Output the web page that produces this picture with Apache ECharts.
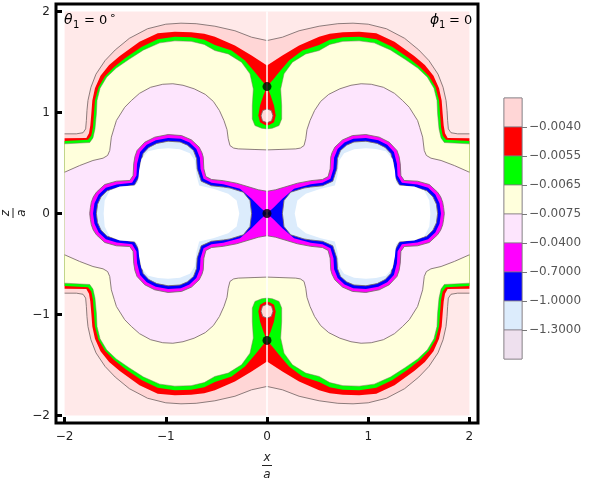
<!DOCTYPE html>
<html>
<head>
<meta charset="utf-8">
<script src="https://cdn.jsdelivr.net/npm/echarts@6/dist/echarts.min.js"></script>
<style>
  html, body { margin: 0; padding: 0; background: #fff; }
  #main { width: 594px; height: 484px; }
</style>
</head>
<body>
<div id="main"></div>
<script>
// contour outlines, upper-left quadrant only (x <= 0, z >= 0)
// the plot is mirror symmetric in x and in z, the other quadrants are reflections
var domain = [-2, 2];
var ticks = [-2, -1, 0, 1, 2];

// grey line, edge of the outermost pale zone
var lineA = [[-2.0,0.789],[-1.884,0.789],[-1.818,0.80],[-1.792,0.838],[-1.785,0.92],[-1.779,1.02],[-1.769,1.12],
  [-1.74,1.25],[-1.69,1.38],[-1.60,1.515],[-1.50,1.62],[-1.36,1.735],[-1.18,1.83],[-1.00,1.875],[-0.85,1.885],
  [-0.70,1.88],[-0.515,1.855],[-0.317,1.81],[-0.152,1.746],[0,1.713]];
// pink / red
var lineB = [[-2.0,0.746],[-1.785,0.749],[-1.759,0.795],[-1.746,0.871],[-1.736,0.987],[-1.726,1.119],[-1.70,1.24],
  [-1.645,1.365],[-1.56,1.47],[-1.455,1.56],[-1.26,1.70],[-1.08,1.785],[-0.911,1.80],[-0.75,1.795],[-0.62,1.78],
  [-0.515,1.75],[-0.317,1.663],[-0.152,1.564],[0,1.465]];
// red / green (runs into the saddle point)
var lineC = [[-2.0,0.718],[-1.769,0.73],[-1.736,0.772],[-1.72,0.855],[-1.71,0.987],[-1.70,1.119],[-1.665,1.25],
  [-1.60,1.36],[-1.51,1.45],[-1.40,1.54],[-1.24,1.65],[-1.08,1.725],[-0.911,1.75],[-0.75,1.745],[-0.62,1.72],
  [-0.515,1.67],[-0.35,1.614],[-0.218,1.515],[-0.119,1.399],[-0.053,1.317],[0,1.257]];
// green / yellow (goes round the teardrop)
var lineD = [[-2.0,0.69],[-1.752,0.703],[-1.72,0.749],[-1.70,0.838],[-1.686,0.987],[-1.68,1.119],[-1.65,1.24],
  [-1.585,1.35],[-1.49,1.44],[-1.36,1.53],[-1.22,1.62],[-1.06,1.69],[-0.911,1.71],[-0.75,1.705],[-0.62,1.675],
  [-0.515,1.614],[-0.383,1.581],[-0.251,1.498],[-0.168,1.383],[-0.135,1.234],[-0.145,1.069],[-0.145,0.937],
  [-0.119,0.871],[-0.053,0.845],[0,0.838]];
// yellow / lilac grey line
var lineE = [[-2.0,0.409],[-1.851,0.475],[-1.72,0.525],[-1.62,0.548],[-1.575,0.575],[-1.554,0.624],[-1.538,0.756],
  [-1.51,0.85],[-1.488,0.921],[-1.406,1.052],[-1.34,1.119],[-1.26,1.19],[-1.15,1.25],[-1.03,1.28],[-0.93,1.285],
  [-0.83,1.27],[-0.72,1.235],[-0.61,1.18],[-0.53,1.11],[-0.47,1.02],[-0.425,0.92],[-0.395,0.83],[-0.383,0.74],
  [-0.366,0.673],[-0.33,0.648],[-0.284,0.64],[-0.119,0.634],[0,0.63]];
// teardrop under the upper saddle, left half
var tearOuter = [[0,1.257],[-0.036,1.168],[-0.069,1.069],[-0.086,0.97],[-0.069,0.904],[-0.026,0.878],[0,0.871]];
var tearInner = [[0,1.036],[-0.042,1.02],[-0.059,0.967],[-0.045,0.918],[0,0.898]];
// left lobe, upper half
var lobeMagenta = [[-1.752,0],[-1.745,0.06],[-1.736,0.112],[-1.716,0.165],[-1.686,0.211],[-1.604,0.287],[-1.488,0.32],
  [-1.356,0.327],[-1.323,0.376],[-1.317,0.492],[-1.305,0.565],[-1.284,0.624],[-1.208,0.706],[-1.109,0.756],
  [-0.977,0.782],[-0.845,0.772],[-0.746,0.729],[-0.67,0.657],[-0.642,0.6],[-0.63,0.558],[-0.624,0.442],
  [-0.604,0.366],[-0.548,0.337],[-0.432,0.325],[-0.30,0.30],[-0.168,0.26],[-0.085,0.235],[0,0.22]];
var lobeBlue = [[-1.719,0],[-1.705,0.102],[-1.663,0.188],[-1.592,0.256],[-1.485,0.287],[-1.333,0.304],[-1.29,0.376],
  [-1.284,0.492],[-1.254,0.609],[-1.188,0.68],[-1.099,0.725],[-0.977,0.749],[-0.852,0.74],[-0.766,0.703],
  [-0.698,0.64],[-0.663,0.551],[-0.657,0.442],[-0.627,0.343],[-0.548,0.305],[-0.432,0.29],[-0.267,0.244],
  [-0.152,0.145],[-0.069,0.063],[0,0]];
var lobeLightBlue = [[-1.686,0],[-1.674,0.092],[-1.64,0.165],[-1.58,0.225],[-1.482,0.254],[-1.31,0.281],[-1.257,0.376],
  [-1.251,0.492],[-1.224,0.594],[-1.168,0.654],[-1.089,0.694],[-0.977,0.716],[-0.859,0.708],[-0.786,0.677],
  [-0.726,0.623],[-0.696,0.544],[-0.69,0.442],[-0.65,0.32],[-0.55,0.275],[-0.43,0.262],[-0.366,0.252],
  [-0.234,0.211],[-0.168,0.129],[-0.152,0]];
var lobeWhite = [[-1.614,0],[-1.604,0.129],[-1.554,0.228],[-1.455,0.267],[-1.307,0.277],[-1.274,0.31],[-1.264,0.426],
  [-1.241,0.541],[-1.175,0.617],[-1.076,0.64],[-0.977,0.647],[-0.861,0.637],[-0.762,0.597],[-0.713,0.525],
  [-0.696,0.376],[-0.67,0.277],[-0.531,0.244],[-0.383,0.195],[-0.30,0.129],[-0.274,0]];

var saddleX = [0, 0, 0];
var saddleZ = [1.257, 0, -1.257];

var levelLabels = ['\u22120.0040', '\u22120.0055', '\u22120.0065', '\u22120.0075', '\u22120.0400',
  '\u22120.7000', '\u22121.0000', '\u22121.3000'];
var levelColors = ['#ffd6d6', '#ff0000', '#00ff00', '#ffffdc', '#fde5fd', '#ff00ff', '#0000ff', '#dcecfc', '#eee0ee'];
var outerColor = '#ffe9e9';
var lineGrey = 'rgba(120,105,105,0.85)';

function rev(q) { return q.slice().reverse(); }
function mirrorX(q) { return q.map(function (p) { return [-p[0], p[1]]; }); }
function mirrorZ(q) { return q.map(function (p) { return [p[0], -p[1]]; }); }
function upperHalf(q) { return q.concat(rev(mirrorX(q))); }
function band(q) { return upperHalf(q).concat(rev(mirrorZ(upperHalf(q)))); }
function lobe(q) { return q.concat(rev(mirrorZ(q))); }

var shapes = [];
shapes.push({ pts: [[domain[0], domain[0]], [domain[1], domain[0]], [domain[1], domain[1]], [domain[0], domain[1]]], fill: outerColor });
shapes.push({ pts: band(lineA), fill: levelColors[0] });
shapes.push({ pts: band(lineB), fill: levelColors[1] });
shapes.push({ pts: band(lineC), fill: levelColors[2] });
shapes.push({ pts: band(lineD), fill: levelColors[3] });
shapes.push({ pts: band(lineE), fill: levelColors[4] });
[upperHalf(tearOuter), mirrorZ(upperHalf(tearOuter))].forEach(function (t) {
  shapes.push({ pts: t, fill: levelColors[1] });
});
[upperHalf(tearInner), mirrorZ(upperHalf(tearInner))].forEach(function (t) {
  shapes.push({ pts: t, fill: levelColors[0], stroke: lineGrey });
});
shapes.push({ pts: band(lobeMagenta), fill: levelColors[5], stroke: lineGrey });
shapes.push({ pts: band(lobeBlue), fill: levelColors[6] });
shapes.push({ pts: lobe(lobeLightBlue), fill: levelColors[7], stroke: lineGrey });
shapes.push({ pts: mirrorX(lobe(lobeLightBlue)), fill: levelColors[7], stroke: lineGrey });
shapes.push({ pts: lobe(lobeWhite), fill: '#ffffff' });
shapes.push({ pts: mirrorX(lobe(lobeWhite)), fill: '#ffffff' });
// contour lines
[lineA, lineE].forEach(function (q) {
  shapes.push({ pts: upperHalf(q), line: true, stroke: lineGrey });
  shapes.push({ pts: mirrorZ(upperHalf(q)), line: true, stroke: lineGrey });
});
shapes.push({ pts: upperHalf(lineD), line: true, stroke: 'rgba(120,120,90,0.5)' });
shapes.push({ pts: mirrorZ(upperHalf(lineD)), line: true, stroke: 'rgba(120,120,90,0.5)' });

function renderShape(params, api) {
  var s = shapes[params.dataIndex];
  var pts = s.pts.map(function (p) { return api.coord(p); });
  if (s.line) {
    return { type: 'polyline', shape: { points: pts }, style: { fill: null, stroke: s.stroke, lineWidth: 1 } };
  }
  return { type: 'polygon', shape: { points: pts }, style: { fill: s.fill, stroke: s.stroke || null, lineWidth: 1 } };
}

function renderBox(params, api) {
  var k = params.dataIndex;
  var p0 = api.coord([0, 9 - k]);
  var p1 = api.coord([1, 8 - k]);
  return {
    type: 'rect',
    shape: { x: p0[0], y: p0[1], width: p1[0] - p0[0], height: p1[1] - p0[1] },
    style: { fill: levelColors[k], stroke: 'rgba(130,120,130,0.7)', lineWidth: 1 }
  };
}

function fmtTick(v) { return v < 0 ? '\u2212' + (-v) : String(v); }

var font = 'DejaVu Sans';
var myChart = echarts.init(document.getElementById('main'), null, { renderer: 'canvas' });

var option = {
  animation: false,
  grid: [
    { left: 56, top: 4, width: 422, height: 419, show: true, borderColor: '#000', borderWidth: 3, backgroundColor: '#fff' },
    { left: 504, top: 98, width: 18, height: 261, show: true, borderColor: '#999', borderWidth: 1 }
  ],
  xAxis: [{
    gridIndex: 0, type: 'value', min: -2.085, max: 2.085, position: 'bottom',
    axisLine: { show: false, onZero: false }, splitLine: { show: false },
    axisTick: { inside: true, length: 6, customValues: ticks, lineStyle: { color: '#000', width: 3 } },
    axisLabel: { customValues: ticks, formatter: fmtTick, fontSize: 12, color: '#222', margin: 8, fontFamily: font }
  }, {
    gridIndex: 1, type: 'value', min: 0, max: 1, show: false
  }],
  yAxis: [{
    gridIndex: 0, type: 'value', min: -2.075, max: 2.075, position: 'left',
    axisLine: { show: false, onZero: false }, splitLine: { show: false },
    axisTick: { inside: true, length: 6, customValues: ticks, lineStyle: { color: '#000', width: 3 } },
    axisLabel: { customValues: ticks, formatter: fmtTick, fontSize: 12, color: '#222', margin: 6, fontFamily: font }
  }, {
    gridIndex: 1, type: 'value', min: 0, max: 9, position: 'right',
    axisLine: { show: false, onZero: false }, splitLine: { show: false },
    axisTick: { show: true, inside: false, length: 5, customValues: [1, 2, 3, 4, 5, 6, 7, 8], lineStyle: { color: '#777', width: 1 } },
    axisLabel: {
      customValues: [1, 2, 3, 4, 5, 6, 7, 8], margin: 7, fontSize: 12, color: '#555', fontFamily: font,
      formatter: function (v) { return levelLabels[8 - v] || ''; }
    }
  }],
  series: [{
    type: 'custom', xAxisIndex: 0, yAxisIndex: 0, silent: true, clip: false,
    renderItem: renderShape,
    data: shapes.map(function () { return [0, 0]; }),
    z: 2
  }, {
    type: 'line', xAxisIndex: 0, yAxisIndex: 0, silent: true, symbol: 'none',
    data: [[0, domain[0]], [0, domain[1]]],
    lineStyle: { color: '#ffffff', width: 1.5 },
    z: 3
  }, {
    type: 'scatter', xAxisIndex: 0, yAxisIndex: 0, silent: true,
    data: saddleX.map(function (x, i) { return [x, saddleZ[i]]; }),
    symbolSize: 9, itemStyle: { color: '#000' },
    z: 4
  }, {
    type: 'custom', xAxisIndex: 1, yAxisIndex: 1, silent: true,
    renderItem: renderBox,
    data: levelColors.map(function () { return [0, 0]; }),
    z: 2
  }],
  graphic: [
    { type: 'text', z: 100, left: 64, top: 13, style: { text: '\u03b8', font: 'italic 14px ' + font, fill: '#000' } },
    { type: 'text', z: 100, left: 73, top: 20, style: { text: '1', font: '10px ' + font, fill: '#000' } },
    { type: 'text', z: 100, left: 84, top: 14, style: { text: '= 0', font: '13px ' + font, fill: '#000' } },
    { type: 'text', z: 100, left: 109, top: 11, style: { text: '\u2218', font: '11px ' + font, fill: '#000' } },
    { type: 'text', z: 100, left: 430, top: 13, style: { text: '\u03d5', font: 'italic 14px ' + font, fill: '#000' } },
    { type: 'text', z: 100, left: 439, top: 20, style: { text: '1', font: '10px ' + font, fill: '#000' } },
    { type: 'text', z: 100, left: 449, top: 14, style: { text: '= 0', font: '13px ' + font, fill: '#000' } },
    { type: 'text', z: 100, x: 267, y: 458, style: { text: 'x', font: 'italic 12px ' + font, fill: '#222', textAlign: 'center', textVerticalAlign: 'middle' } },
    { type: 'line', z: 100, shape: { x1: 262, y1: 465.5, x2: 272, y2: 465.5 }, style: { stroke: '#222', lineWidth: 1 } },
    { type: 'text', z: 100, x: 267, y: 475, style: { text: 'a', font: 'italic 12px ' + font, fill: '#222', textAlign: 'center', textVerticalAlign: 'middle' } },
    {
      type: 'group', z: 100, x: 14, y: 213, rotation: Math.PI / 2,
      children: [
        { type: 'text', z: 100, x: 0, y: -8, style: { text: 'z', font: 'italic 12px ' + font, fill: '#222', textAlign: 'center', textVerticalAlign: 'middle' } },
        { type: 'line', z: 100, shape: { x1: -5, y1: -1, x2: 5, y2: -1 }, style: { stroke: '#222', lineWidth: 1 } },
        { type: 'text', z: 100, x: 0, y: 8, style: { text: 'a', font: 'italic 12px ' + font, fill: '#222', textAlign: 'center', textVerticalAlign: 'middle' } }
      ]
    }
  ]
};
myChart.setOption(option);
</script>
</body>
</html>
